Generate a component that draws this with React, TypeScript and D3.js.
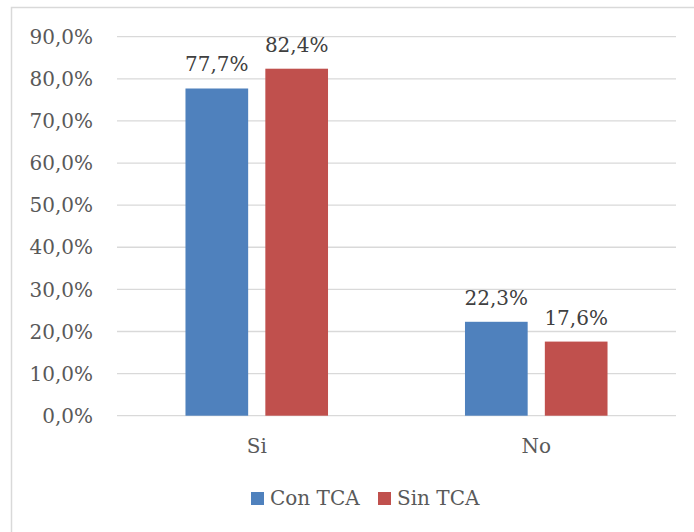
import React from "react";
import * as d3 from "d3";

const categories = ["Si", "No"];
const seriesNames = ["Con TCA", "Sin TCA"];
const conTCA = [77.7, 22.3];
const sinTCA = [82.4, 17.6];
const yTicks = [0, 10, 20, 30, 40, 50, 60, 70, 80, 90];
const colors = ["#4F81BD", "#C0504D"];

const W = 694;
const H = 532;
const plot = { left: 117, right: 676, top: 36.7, bottom: 415.7 };
const FONT = "'DejaVu Serif', serif";

const fmt = (v: number) => v.toFixed(1).replace(".", ",") + "%";

export default function App() {
  const series = [conTCA, sinTCA];
  const y = d3.scaleLinear().domain([0, 90]).range([plot.bottom, plot.top]);
  const x0 = d3
    .scaleBand<string>()
    .domain(categories)
    .range([plot.left, plot.right])
    .paddingInner(0.49)
    .paddingOuter(0.245);
  const x1 = d3
    .scaleBand<string>()
    .domain(seriesNames)
    .range([0, x0.bandwidth()])
    .paddingInner(0.215);

  return (
    <svg
      width={W}
      height={H}
      style={{ position: "absolute", left: 0, top: 0, background: "#fff" }}
    >
      <rect x={0} y={0} width={W} height={H} fill="#fff" />
      <path d={`M11.5,${H + 2} V7.5 H${W + 2}`} fill="none" stroke="#D9D9D9" strokeWidth={1.5} />
      {yTicks.map((t) => (
        <g key={t}>
          <line
            x1={plot.left}
            x2={plot.right}
            y1={y(t)}
            y2={y(t)}
            stroke="#D9D9D9"
            strokeWidth={1.3}
          />
          <text
            x={93}
            y={y(t)}
            dy="0.36em"
            textAnchor="end"
            fontFamily={FONT}
            fontSize={20}
            fill="#595959"
          >
            {fmt(t)}
          </text>
        </g>
      ))}
      {categories.map((c, ci) => (
        <g key={c} transform={`translate(${x0(c)},0)`}>
          {seriesNames.map((s, si) => {
            const v = series[si][ci];
            const bx = x1(s)!;
            return (
              <g key={s}>
                <rect
                  x={bx}
                  y={y(v)}
                  width={x1.bandwidth()}
                  height={y(0) - y(v)}
                  fill={colors[si]}
                />
                <text
                  x={bx + x1.bandwidth() / 2}
                  y={y(v) - 17}
                  textAnchor="middle"
                  fontFamily={FONT}
                  fontSize={20}
                  fill="#404040"
                >
                  {fmt(v)}
                </text>
              </g>
            );
          })}
          <text
            x={x0.bandwidth() / 2}
            y={452.5}
            textAnchor="middle"
            fontFamily={FONT}
            fontSize={20}
            fill="#595959"
          >
            {c}
          </text>
        </g>
      ))}
      {seriesNames.map((s, si) => {
        const lx = [251, 378][si];
        return (
          <g key={s}>
            <rect x={lx} y={492} width={13} height={13} fill={colors[si]} />
            <text
              x={lx + 19}
              y={505}
              fontFamily={FONT}
              fontSize={20}
              fill="#595959"
            >
              {s}
            </text>
          </g>
        );
      })}
    </svg>
  );
}
